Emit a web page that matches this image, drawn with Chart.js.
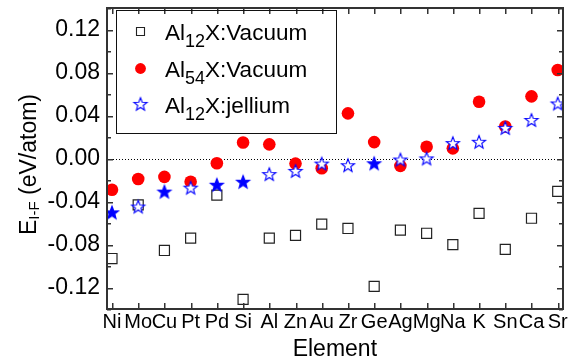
<!DOCTYPE html>
<html><head><meta charset="utf-8">
<script src="https://cdn.jsdelivr.net/npm/chart.js@4/dist/chart.umd.min.js"></script>
<style>html,body{margin:0;padding:0;background:#fff;}#wrap{width:571px;height:362px;position:relative;}</style>
</head><body><div id="wrap"><canvas id="c" width="571" height="362"></canvas></div>
<script>
const elements = ['Ni','Mo','Cu','Pt','Pd','Si','Al','Zn','Au','Zr','Ge','Ag','Mg','Na','K','Sn','Ca','Sr'];
const al12Vacuum = [-0.093,-0.043,-0.0855,-0.074,-0.034,-0.131,-0.074,-0.0715,-0.061,-0.065,-0.119,-0.0665,-0.0695,-0.080,-0.051,-0.0845,-0.0555,-0.0305];
const al54Vacuum = [-0.029,-0.019,-0.017,-0.0215,-0.0043,0.0151,0.0133,-0.0046,-0.0089,0.0422,0.0154,-0.0067,0.0111,0.0096,0.053,0.030,0.058,0.0825];
const al12Jellium = [-0.050,-0.0446,-0.0307,-0.027,-0.0243,-0.0215,-0.0144,-0.0114,-0.0046,-0.0061,-0.0043,-0.0008,0.0002,0.0145,0.0157,0.0286,0.036,0.0514];
const jelliumFilled = [true,false,true,false,true,true,false,false,false,false,true,false,false,false,false,false,false,false];
const yTicks = [-0.12,-0.08,-0.04,0.00,0.04,0.08,0.12];
const yMinorTicks = [-0.14,-0.10,-0.06,-0.02,0.02,0.06,0.10,0.14];

const FONT = '"Liberation Sans", Arial, sans-serif';
const BLUE = '#0000ff', RED = '#ff0000';

function makeStar(filled){
  const c = document.createElement('canvas');
  c.width = 20; c.height = 20;
  const g = c.getContext('2d');
  const R = 6.9, r = 2.9, cx = 10, cy = 10.6;
  g.beginPath();
  for (let k = 0; k < 10; k++){
    const rad = k % 2 === 0 ? R : r;
    const a = -Math.PI/2 + k*Math.PI/5;
    const px = cx + rad*Math.cos(a), py = cy + rad*Math.sin(a);
    if (k === 0) g.moveTo(px, py); else g.lineTo(px, py);
  }
  g.closePath();
  g.fillStyle = filled ? BLUE : '#ffffff';
  g.fill();
  g.lineWidth = 1.1; g.strokeStyle = BLUE; g.lineJoin = 'miter';
  g.stroke();
  return c;
}
const starFilled = makeStar(true), starOpen = makeStar(false);

function drawRich(ctx, x, y, parts){
  let cx = x;
  for (const p of parts){
    ctx.font = p.size + 'px ' + FONT;
    ctx.fillText(p.t, cx, y + (p.dy || 0));
    cx += ctx.measureText(p.t).width;
  }
}

const decor = {
  id: 'decor',
  beforeDatasetsDraw(chart){
    const {ctx, chartArea: a, scales: {y}} = chart;
    ctx.save();
    ctx.strokeStyle = '#000'; ctx.lineWidth = 1; ctx.setLineDash([1,2]);
    const y0 = Math.round(y.getPixelForValue(0)) + 0.5;
    ctx.beginPath(); ctx.moveTo(a.left, y0); ctx.lineTo(a.right, y0); ctx.stroke();
    ctx.restore();
  },
  afterDraw(chart){
    const {ctx, chartArea: a, scales: {x, y}} = chart;
    ctx.save();
    ctx.setLineDash([]); ctx.globalAlpha = 1;
    ctx.fillStyle = '#333';
    const L = Math.round(x.left), R = Math.round(x.right), T = Math.round(y.top), B = Math.round(y.bottom);
    ctx.fillRect(L - 1, T - 1, R - L + 2, 2);
    ctx.fillRect(L - 1, B - 1, R - L + 2, 2);
    ctx.fillRect(L - 1, T - 1, 2, B - T + 2);
    ctx.fillRect(R - 1, T - 1, 2, B - T + 2);
    yTicks.forEach(v => { const py = Math.round(y.getPixelForValue(v)); ctx.fillRect(L, py, 6, 1.5); ctx.fillRect(R - 6, py, 6, 1.5); });
    yMinorTicks.forEach(v => { const py = Math.round(y.getPixelForValue(v)); ctx.fillRect(L, py, 4, 1.5); ctx.fillRect(R - 4, py, 4, 1.5); });
    elements.forEach((e, i) => { const px = Math.round(x.getPixelForValue(i)); ctx.fillRect(px, B - 6, 1.5, 6); ctx.fillRect(px, T, 1.5, 6); });

    // legend
    ctx.fillStyle = '#111';
    ctx.fillRect(116, 10, 221, 1); ctx.fillRect(116, 133, 221, 1);
    ctx.fillRect(116, 10, 1, 124); ctx.fillRect(336, 10, 1, 124);
    ctx.strokeStyle = '#222'; ctx.lineWidth = 1.1;
    ctx.beginPath(); ctx.rect(136.5, 27.5, 8, 8); ctx.stroke();
    ctx.fillStyle = RED; ctx.beginPath(); ctx.arc(140.5, 68.5, 5.4, 0, Math.PI*2); ctx.fill();
    ctx.drawImage(starOpen, 140.5-10, 104.5-10.6);
    ctx.fillStyle = '#000'; ctx.textBaseline = 'alphabetic'; ctx.textAlign = 'left';
    drawRich(ctx, 165, 40, [{t:'Al', size:22.5},{t:'12', size:18, dy:7},{t:'X:Vacuum', size:22.5}]);
    drawRich(ctx, 165, 76.5, [{t:'Al', size:22.5},{t:'54', size:18, dy:7},{t:'X:Vacuum', size:22.5}]);
    drawRich(ctx, 165, 113, [{t:'Al', size:22.5},{t:'12', size:18, dy:7},{t:'X:jellium', size:22.5}]);

    // x title
    ctx.font = '23px ' + FONT; ctx.textAlign = 'center';
    ctx.fillText('Element', (a.left + a.right)/2, 356);
    // y title
    ctx.textAlign = 'left';
    ctx.translate(36, 235); ctx.rotate(-Math.PI/2);
    drawRich(ctx, 0, 0, [{t:'E', size:23},{t:'I-F', size:15, dy:3},{t:' (eV/atom)', size:23}]);
    ctx.restore();
  }
};

const pts = arr => arr.map((v, i) => ({x: i, y: v}));

new Chart(document.getElementById('c'), {
  type: 'scatter',
  data: {
    datasets: [
      { label: 'Al12X:Vacuum', data: pts(al12Vacuum), order: 3, pointStyle: 'rect', pointRadius: 7.1, pointBorderWidth: 1.2,
        pointBorderColor: '#222', pointBackgroundColor: 'rgba(0,0,0,0)', showLine: false },
      { label: 'Al54X:Vacuum', data: pts(al54Vacuum), order: 2, pointStyle: 'circle', pointRadius: 6.3, pointBorderWidth: 0,
        pointBackgroundColor: RED, pointBorderColor: RED, showLine: false },
      { label: 'Al12X:jellium', data: pts(al12Jellium), order: 1, pointRadius: 7, showLine: false,
        pointStyle: ctx => jelliumFilled[ctx.dataIndex] ? starFilled : starOpen }
    ]
  },
  options: {
    responsive: false, animation: false, devicePixelRatio: 1,
    layout: { padding: { left: 0, right: 2, top: 4, bottom: 0 } },
    plugins: { legend: { display: false }, tooltip: { enabled: false } },
    scales: {
      x: {
        type: 'linear', min: -0.19, max: 17.19,
        grid: { display: false, drawTicks: false }, border: { display: false },
        afterBuildTicks: s => { s.ticks = elements.map((e, i) => ({ value: i })); },
        afterFit: s => { s.height = 53; s.paddingLeft = 0; s.paddingRight = 0; s.paddingTop = 0; s.paddingBottom = 0; },
        ticks: { autoSkip: false, maxRotation: 0, minRotation: 0, padding: 1, color: '#000',
          font: { family: FONT, size: 20 }, callback: v => elements[v] }
      },
      y: {
        min: -0.14, max: 0.14,
        grid: { display: false, drawTicks: false }, border: { display: false },
        afterBuildTicks: s => { s.ticks = yTicks.map(v => ({ value: v })); },
        afterFit: s => { s.width = 107; s.paddingLeft = 0; s.paddingRight = 0; s.paddingTop = 0; s.paddingBottom = 0; },
        ticks: { padding: 7, color: '#000', font: { family: FONT, size: 23 }, callback: v => Number(v).toFixed(2) }
      }
    }
  },
  plugins: [decor]
});
</script></body></html>
